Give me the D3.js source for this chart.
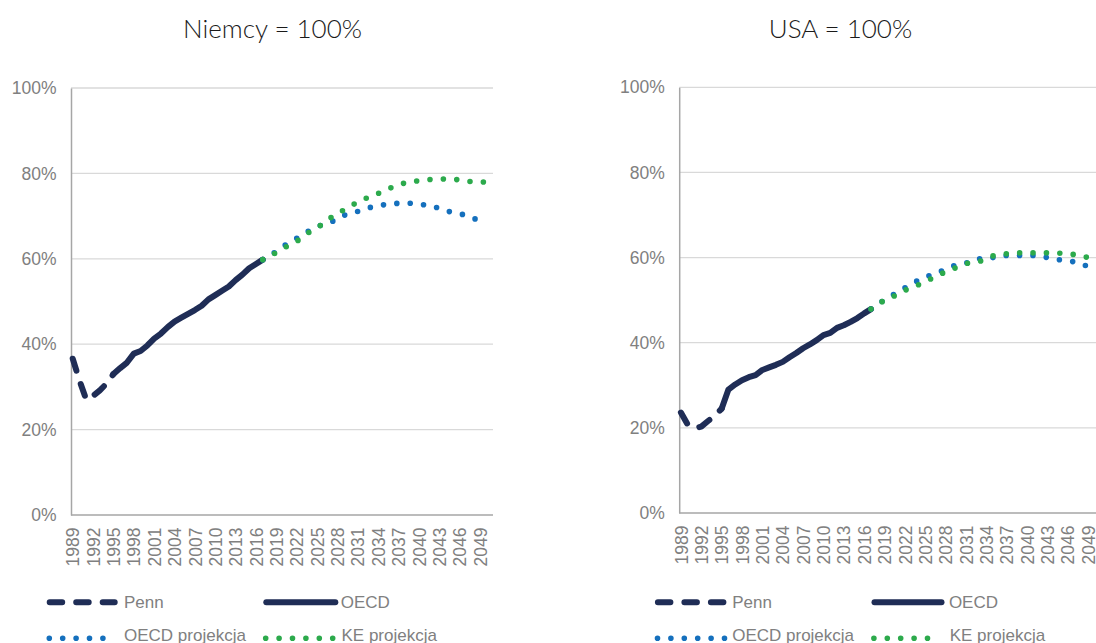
<!DOCTYPE html>
<html><head><meta charset="utf-8">
<script src="https://cdn.jsdelivr.net/npm/d3@7"></script>
<style>body{margin:0;background:#fff;} svg{display:block}</style>
</head><body>
<svg id="c" width="1096" height="643"></svg>
<script>
// ---------- data ----------
const tickYears = [1989,1992,1995,1998,2001,2004,2007,2010,2013,2016,2019,2022,2025,2028,2031,2034,2037,2040,2043,2046,2049];
const yTicks = [0,20,40,60,80,100];
const seriesNames = ["Penn","OECD","OECD projekcja","KE projekcja"];
const titles = ["Niemcy = 100%","USA = 100%"];

const pennYears = [1989,1990,1991,1992,1993,1994,1995];
const oecdYears = [1995,1996,1997,1998,1999,2000,2001,2002,2003,2004,2005,2006,2007,2008,2009,2010,2011,2012,2013,2014,2015,2016,2017];
const projYears = [2017,2018,2019,2020,2021,2022,2023,2024,2025,2026,2027,2028,2029,2030,2031,2032,2033,2034,2035,2036,2037,2038,2039,2040,2041,2042,2043,2044,2045,2046,2047,2048,2049,2050];

// Niemcy = 100%
const dePenn = [36.6,31.5,27.0,27.9,29.2,30.8,33.0];
const deOecd = [33.0,34.4,35.7,37.8,38.4,39.7,41.3,42.5,44.0,45.3,46.2,47.1,48.0,49.0,50.5,51.5,52.5,53.5,55.0,56.3,57.8,58.8,59.8];
const deOecdProj = [59.8,60.6,61.8,62.9,63.9,64.8,65.8,66.7,67.5,68.1,68.5,69.5,70.2,70.6,71.1,71.7,72.1,72.4,72.7,72.9,73.0,73.0,73.0,72.8,72.6,72.3,71.8,71.2,70.9,70.6,70.1,69.5,68.9,68.3];
const deKeProj = [59.8,60.5,61.5,62.4,63.3,64.1,65.2,66.4,67.3,68.3,69.6,70.6,71.5,72.4,73.3,74.0,74.7,75.3,76.0,76.7,77.3,77.8,78.1,78.3,78.5,78.6,78.7,78.7,78.6,78.5,78.2,78.0,78.0,78.0];

// USA = 100%
const usPenn = [23.6,20.8,19.9,20.3,21.6,22.9,24.5];
const usOecd = [24.5,29.0,30.2,31.2,31.9,32.4,33.6,34.2,34.8,35.5,36.6,37.6,38.7,39.6,40.6,41.8,42.3,43.5,44.1,44.9,45.8,46.9,47.9];
const usOecdProj = [47.9,49.0,50.1,51.0,52.0,52.9,53.8,54.7,55.4,56.0,56.6,57.3,58.0,58.4,58.7,59.2,59.7,59.8,60.0,60.3,60.5,60.5,60.5,60.5,60.5,60.3,60.0,59.7,59.4,59.2,59.0,58.6,57.8,57.1];
const usKeProj = [47.9,49.0,50.0,50.6,51.5,52.3,53.0,53.6,54.4,55.1,55.9,56.7,57.3,57.9,58.6,58.9,59.1,59.8,60.4,60.7,60.9,61.1,61.1,61.1,61.1,61.1,61.1,61.1,61.0,60.9,60.7,60.4,60.0,59.6];

// ---------- styles ----------
const NAVY = "#1f2d56", BLUE = "#1570bd", GREEN = "#2caa4c";
const styles = [
  {stroke: NAVY, width: 6, dash: "12.5 14"},
  {stroke: NAVY, width: 6, dash: null},
  {stroke: BLUE, width: 5.6, dash: "0 13.4"},
  {stroke: GREEN, width: 5.6, dash: "0 13.4"}
];
const TXT = "#808080";
const FONT = "'Liberation Sans', Arial, sans-serif";

const svg = d3.select("#c");

const panels = [
  {title: titles[0], titleX: 272.5, ox: 0, top: 88, bottom: 515,
   series: [[pennYears, dePenn],[oecdYears, deOecd],[projYears, deOecdProj],[projYears, deKeProj]],
   legendLen: [65, 69, 54, 67]},
  {title: titles[1], titleX: 840.5, ox: 608.2, top: 87.3, bottom: 513,
   series: [[pennYears, usPenn],[oecdYears, usOecd],[projYears, usOecdProj],[projYears, usKeProj]],
   legendLen: [67, 67, 67, 54]}
];

panels.forEach(p => {
  const g = svg.append("g");
  const L = p.ox + 71, R = p.ox + 493;
  const x = d3.scaleLinear().domain([1989, 2049]).range([p.ox + 72.7, p.ox + 480]);
  const y = d3.scaleLinear().domain([0, 100]).range([p.bottom, p.top]);

  // title
  g.append("text").attr("x", p.titleX).attr("y", 37.5).attr("text-anchor", "middle")
    .attr("font-family", "Lato, 'Open Sans', sans-serif").attr("font-size", 26)
    .attr("font-weight", 300).attr("fill", "#1a1a1a").text(p.title);

  // gridlines
  g.selectAll("line.grid").data(yTicks.filter(d => d > 0)).join("line")
    .attr("x1", L).attr("x2", R).attr("y1", d => y(d)).attr("y2", d => y(d))
    .attr("stroke", "#d9d9d9").attr("stroke-width", 1.3);

  // y axis
  const ya = g.append("g").attr("transform", `translate(${L},0)`)
    .call(d3.axisLeft(y).tickValues(yTicks).tickFormat(d => d + "%").tickSize(0).tickPadding(14.5));
  ya.select(".domain").attr("stroke", "#a6a6a6").attr("stroke-width", 1.5);
  ya.selectAll("text").attr("font-family", FONT).attr("font-size", 17.5).attr("fill", TXT);

  // x axis
  g.append("line").attr("x1", L).attr("x2", R).attr("y1", p.bottom).attr("y2", p.bottom)
    .attr("stroke", "#a6a6a6").attr("stroke-width", 1.5);
  const xa = g.append("g").attr("transform", `translate(0,${p.bottom})`)
    .call(d3.axisBottom(x).tickValues(tickYears).tickFormat(d => String(d)).tickSize(0));
  xa.select(".domain").remove();
  xa.selectAll("text").attr("font-family", FONT).attr("font-size", 17.5).attr("fill", TXT)
    .attr("transform", "rotate(-90)").attr("text-anchor", "end")
    .attr("x", -12.5).attr("y", 0).attr("dy", "0.35em");

  // series
  const line = d3.line().x(d => x(d[0])).y(d => y(d[1]));
  p.series.forEach((s, i) => {
    const pts = s[0].map((yr, k) => [yr, s[1][k]]);
    const st = styles[i];
    g.append("path").datum(pts).attr("d", line).attr("fill", "none")
      .attr("stroke", st.stroke).attr("stroke-width", st.width)
      .attr("stroke-linecap", "round").attr("stroke-linejoin", "round")
      .attr("stroke-dasharray", st.dash);
  });

  // legend
  const lx = [p.ox + 49.7, p.ox + 266.3, p.ox + 49.3, p.ox + 265.7];
  const tx = [p.ox + 124, p.ox + 340.7, p.ox + 124, p.ox + 341.5];
  const ly = [602.3, 602.3, 638.3, 638.3];
  const ty = [608.3, 608.3, 641, 641];
  seriesNames.forEach((name, i) => {
    const st = styles[i];
    g.append("line").attr("x1", lx[i]).attr("x2", lx[i] + p.legendLen[i])
      .attr("y1", ly[i]).attr("y2", ly[i])
      .attr("stroke", st.stroke).attr("stroke-width", st.width)
      .attr("stroke-linecap", "round").attr("stroke-dasharray", st.dash);
    g.append("text").attr("x", tx[i]).attr("y", ty[i]).attr("font-family", FONT)
      .attr("font-size", 17).attr("fill", TXT).text(name);
  });
});
</script>
</body></html>
